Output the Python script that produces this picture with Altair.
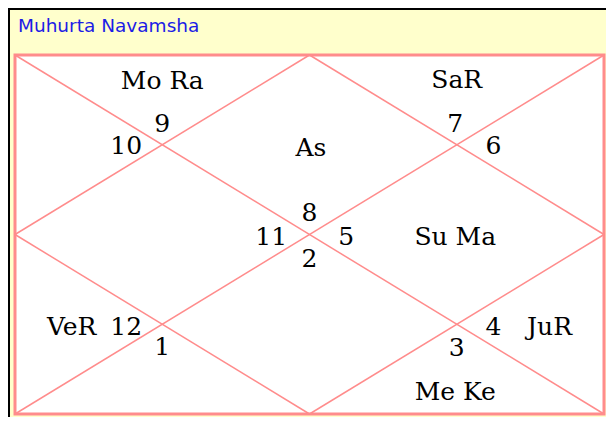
import altair as alt
import pandas as pd

# house numbers and planets (chart units: square box 0..4 x 0..4, y downwards)
labels = ["Mo Ra", "9", "10", "As", "SaR", "7", "6", "8", "11", "5", "2",
          "Su Ma", "VeR", "12", "1", "4", "JuR", "3", "Me Ke"]
label_x = [1.0, 1.0, 0.755, 2.01, 3.0, 2.99, 3.25, 2.0, 1.74, 2.25, 2.0,
           2.99, 0.385, 0.755, 1.0, 3.25, 3.63, 3.0, 2.99]
label_y = [0.285, 0.767, 1.019, 1.04, 0.274, 0.767, 1.019, 1.764, 2.03, 2.03, 2.27,
           2.03, 3.036, 3.036, 3.25, 3.036, 3.036, 3.27, 3.76]

# chart line segments (diagonals + inner diamond)
seg_x1 = [0, 4, 2, 4, 2, 0]
seg_y1 = [0, 0, 0, 2, 4, 2]
seg_x2 = [4, 0, 4, 2, 0, 2]
seg_y2 = [4, 4, 2, 4, 2, 0]

box = {"x": [0], "y": [0], "x2": [4], "y2": [4]}
title_text = ["Muhurta Navamsha"]
title_x = [0.02]
title_y = [-0.323]

W, H = 598, 409
xs = alt.Scale(domain=[0, 4], range=[7, 596], nice=False, zero=False)
ys = alt.Scale(domain=[0, 4], range=[47, 406], nice=False, zero=False)

PINK = "#FF8C8C"

lab_df = pd.DataFrame({"t": labels, "x": label_x, "y": label_y})
seg_df = pd.DataFrame({"x": seg_x1, "y": seg_y1, "x2": seg_x2, "y2": seg_y2})
box_df = pd.DataFrame(box)
tit_df = pd.DataFrame({"t": title_text, "x": title_x, "y": title_y})

frame = alt.Chart(box_df).mark_rect(fill="white", stroke=PINK, strokeWidth=3).encode(
    x=alt.X("x:Q", scale=xs, axis=None), x2="x2:Q",
    y=alt.Y("y:Q", scale=ys, axis=None), y2="y2:Q",
)

segs = alt.Chart(seg_df).mark_rule(color=PINK, strokeWidth=1.5).encode(
    x=alt.X("x:Q", scale=xs, axis=None), x2="x2:Q",
    y=alt.Y("y:Q", scale=ys, axis=None), y2="y2:Q",
)

texts = alt.Chart(lab_df).mark_text(
    font="DejaVu Serif", fontSize=25, color="black", align="center", baseline="middle"
).encode(
    x=alt.X("x:Q", scale=xs, axis=None),
    y=alt.Y("y:Q", scale=ys, axis=None),
    text="t:N",
)

title = alt.Chart(tit_df).mark_text(
    font="DejaVu Sans", fontSize=18.5, color="#1C1CE6", align="left", baseline="middle"
).encode(
    x=alt.X("x:Q", scale=xs, axis=None),
    y=alt.Y("y:Q", scale=ys, axis=None),
    text="t:N",
)

border_left = alt.Chart(box_df).mark_rule(color="black", strokeWidth=2).encode(
    x=alt.value(1), y=alt.value(0), y2=alt.value(H)
)
border_top = alt.Chart(box_df).mark_rule(color="black", strokeWidth=2).encode(
    x=alt.value(0), x2=alt.value(W), y=alt.value(1)
)

chart = alt.layer(frame, segs, texts, title, border_left, border_top).properties(
    width=W, height=H, background="#FFFFCC", padding=0,
    autosize=alt.AutoSizeParams(type="none"),
).configure_view(stroke=None)

chart.save("out.html", embed_options={"renderer": "svg", "actions": False})
